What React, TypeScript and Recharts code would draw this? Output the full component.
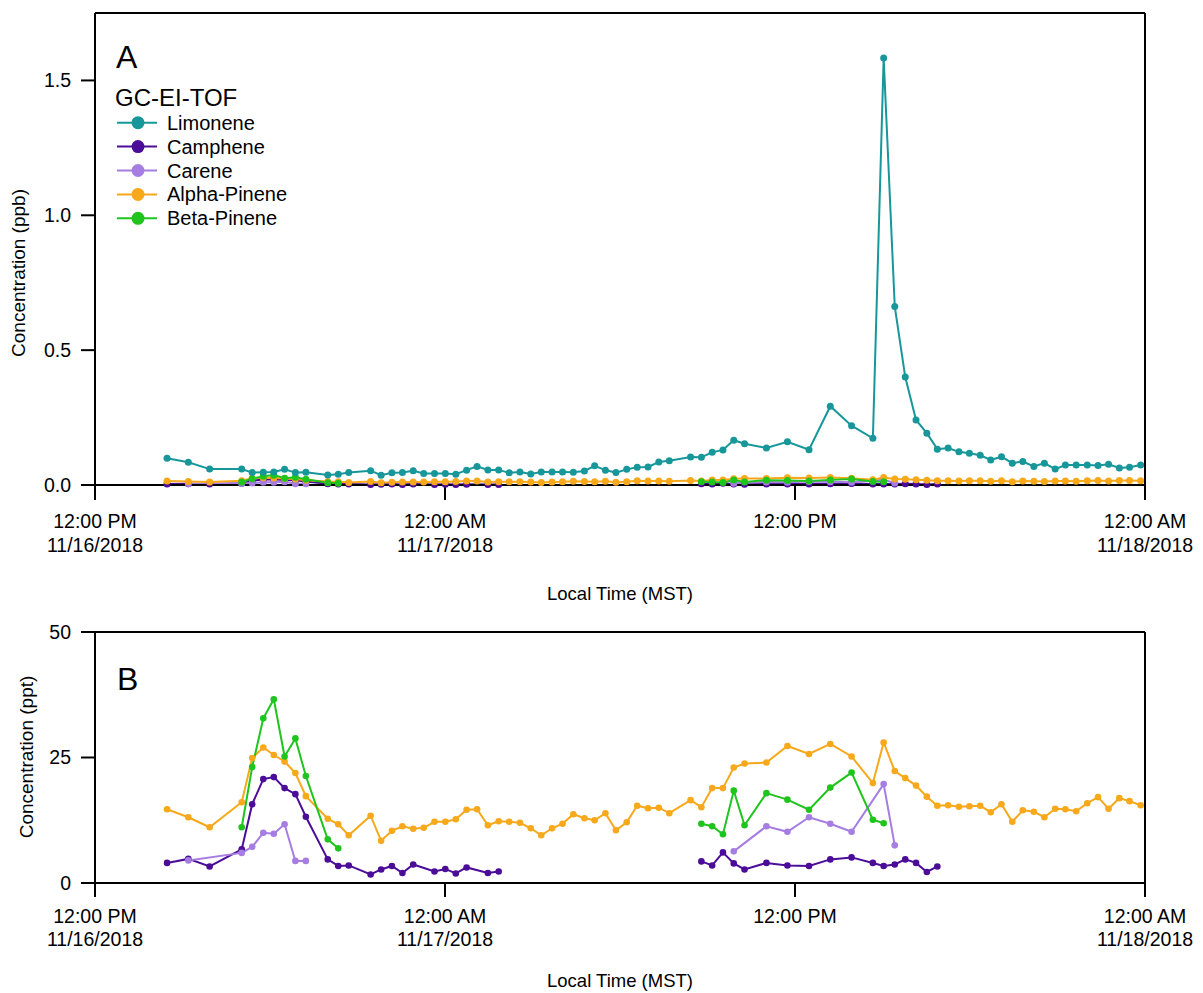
import { LineChart, Line, XAxis, YAxis, ReferenceLine } from "recharts";

type Pt = [number, number | null];

// x = hours after 12:00 PM MST on 11/16/2018
const timeTicks = [0, 12, 24, 36];
const timeLabels = ["12:00 PM", "12:00 AM", "12:00 PM", "12:00 AM"];
const dateLabels = ["11/16/2018", "11/17/2018", "", "11/18/2018"];
const ppbTicks = [0, 0.5, 1, 1.5];
const pptTicks = [0, 25, 50];

const names = ["Limonene", "Camphene", "Carene", "Alpha-Pinene", "Beta-Pinene"];
const colors = ["#17979a", "#4b0c98", "#a67de0", "#f7a81b", "#1fc41d"];

// ppb
const limonene: Pt[] = [
  [2.47, 0.099], [3.2, 0.084], [3.93, 0.059], [5.03, 0.059], [5.39, 0.046], [5.77, 0.047], [6.13, 0.048], [6.5, 0.058],
  [6.87, 0.046], [7.23, 0.047], [7.98, 0.037], [8.34, 0.04], [8.7, 0.046], [9.45, 0.053], [9.81, 0.036], [10.18, 0.045],
  [10.54, 0.046], [10.91, 0.053], [11.27, 0.043], [11.64, 0.043], [12.01, 0.043], [12.37, 0.04], [12.74, 0.055], [13.1, 0.069],
  [13.47, 0.056], [13.84, 0.056], [14.2, 0.045], [14.57, 0.048], [14.94, 0.041], [15.3, 0.048], [15.67, 0.048], [16.03, 0.048],
  [16.4, 0.047], [16.78, 0.052], [17.13, 0.071], [17.5, 0.055], [17.86, 0.046], [18.23, 0.058], [18.59, 0.066], [18.96, 0.067],
  [19.33, 0.085], [19.69, 0.09], [20.42, 0.104], [20.79, 0.103], [21.16, 0.121], [21.53, 0.13], [21.9, 0.166], [22.27, 0.153],
  [23.02, 0.137], [23.74, 0.16], [24.48, 0.131], [25.21, 0.292], [25.94, 0.22], [26.67, 0.173], [27.04, 1.583], [27.42, 0.662],
  [27.78, 0.4], [28.15, 0.241], [28.52, 0.192], [28.88, 0.133], [29.25, 0.137], [29.62, 0.123], [29.98, 0.118], [30.35, 0.11],
  [30.71, 0.093], [31.08, 0.105], [31.45, 0.081], [31.81, 0.087], [32.19, 0.069], [32.55, 0.081], [32.92, 0.059], [33.27, 0.074],
  [33.64, 0.074], [34.02, 0.074], [34.39, 0.072], [34.75, 0.077], [35.12, 0.063], [35.47, 0.066], [35.85, 0.074],
];

// ppt (null = gap in the record)
const camphene: Pt[] = [
  [2.47, 4.0], [3.2, 4.8], [3.93, 3.3], [5.03, 6.7], [5.39, 15.7], [5.77, 20.7], [6.13, 21.1], [6.5, 18.9], [6.87, 17.7],
  [7.23, 13.2], [7.98, 4.7], [8.34, 3.4], [8.7, 3.5], [9.45, 1.7], [9.81, 2.7], [10.18, 3.4], [10.54, 2.0], [10.91, 3.7],
  [11.64, 2.3], [12.01, 2.8], [12.37, 1.9], [12.74, 3.1], [13.47, 2.0], [13.84, 2.3],
  [17, null],
  [20.79, 4.3], [21.16, 3.5], [21.53, 6.1], [21.9, 3.9], [22.27, 2.7], [23.02, 4.0], [23.74, 3.5], [24.48, 3.4], [25.21, 4.7],
  [25.94, 5.1], [26.67, 4.0], [27.04, 3.4], [27.42, 3.7], [27.78, 4.7], [28.15, 4.0], [28.52, 2.2], [28.88, 3.3],
];

const carene: Pt[] = [
  [3.2, 4.5], [5.03, 6.0], [5.39, 7.2], [5.77, 10.0], [6.13, 9.8], [6.5, 11.7], [6.87, 4.4], [7.23, 4.4],
  [15, null],
  [21.9, 6.3], [23.02, 11.3], [23.74, 10.2], [24.48, 13.1], [25.21, 11.8], [25.94, 10.2], [27.04, 19.7], [27.42, 7.5],
];

const alphaPinene: Pt[] = [
  [2.47, 14.7], [3.2, 13.1], [3.93, 11.1], [5.03, 16.1], [5.39, 24.9], [5.77, 27.0], [6.13, 25.5], [6.5, 24.2], [6.87, 21.9],
  [7.23, 17.3], [7.98, 12.8], [8.34, 11.7], [8.7, 9.5], [9.45, 13.4], [9.81, 8.4], [10.18, 10.4], [10.54, 11.3], [10.91, 10.8],
  [11.27, 11.0], [11.64, 12.2], [12.01, 12.2], [12.37, 12.7], [12.74, 14.6], [13.1, 14.7], [13.47, 11.5], [13.84, 12.3],
  [14.2, 12.2], [14.57, 12.0], [14.94, 10.9], [15.3, 9.5], [15.67, 10.9], [16.03, 11.8], [16.4, 13.7], [16.78, 12.9],
  [17.13, 12.5], [17.5, 13.9], [17.86, 10.5], [18.23, 12.1], [18.59, 15.4], [18.96, 14.9], [19.33, 15.0], [19.69, 13.9],
  [20.42, 16.5], [20.79, 15.1], [21.16, 18.9], [21.53, 18.9], [21.9, 23.0], [22.27, 23.8], [23.02, 24.0], [23.74, 27.3],
  [24.48, 25.7], [25.21, 27.7], [25.94, 25.2], [26.67, 19.9], [27.04, 28.0], [27.42, 22.3], [27.78, 20.9], [28.15, 19.4],
  [28.52, 17.2], [28.88, 15.4], [29.25, 15.5], [29.62, 15.2], [29.98, 15.3], [30.35, 15.4], [30.71, 14.1], [31.08, 15.7],
  [31.45, 12.2], [31.81, 14.5], [32.19, 14.2], [32.55, 13.1], [32.92, 14.8], [33.27, 14.7], [33.64, 14.3], [34.02, 15.9],
  [34.39, 17.1], [34.75, 14.8], [35.12, 16.9], [35.47, 16.3], [35.85, 15.5],
];

const betaPinene: Pt[] = [
  [5.03, 11.1], [5.39, 23.1], [5.77, 32.8], [6.13, 36.6], [6.5, 25.2], [6.87, 28.8], [7.23, 21.3], [7.98, 8.7], [8.34, 6.9],
  [15, null],
  [20.79, 11.8], [21.16, 11.3], [21.53, 9.7], [21.9, 18.4], [22.27, 11.5], [23.02, 17.9], [23.74, 16.6], [24.48, 14.6],
  [25.21, 19.0], [25.94, 22.0], [26.67, 12.6], [27.04, 11.9],
];

const FONT = '"Liberation Sans", Arial, Helvetica, sans-serif';

const rows = (pts: Pt[], k = 1) => pts.map(([t, v]) => ({ t, v: v == null ? null : v * k }));

// drawing order: camphene, carene, alpha, beta, then limonene on top
const seriesA = [
  { i: 1, data: rows(camphene, 0.001) },
  { i: 2, data: rows(carene, 0.001) },
  { i: 3, data: rows(alphaPinene, 0.001) },
  { i: 4, data: rows(betaPinene, 0.001) },
  { i: 0, data: rows(limonene) },
];
const seriesB = [
  { i: 1, data: rows(camphene) },
  { i: 2, data: rows(carene) },
  { i: 3, data: rows(alphaPinene) },
  { i: 4, data: rows(betaPinene) },
];

const axisStyle = { stroke: "#000", strokeWidth: 2 };

function TimeTick(props: any) {
  const { x, y, payload, d1, d2 } = props;
  const i = timeTicks.indexOf(payload.value);
  return (
    <g>
      <text x={x} y={y + d1} textAnchor="middle" fontSize={19.5} fill="#000">{timeLabels[i]}</text>
      {dateLabels[i] && (
        <text x={x} y={y + d2} textAnchor="middle" fontSize={19.5} fill="#000">{dateLabels[i]}</text>
      )}
    </g>
  );
}

const yTitle = (text: string, x: number, y: number) => () => (
  <text x={x} y={y} transform={`rotate(-90 ${x} ${y})`} textAnchor="middle" dominantBaseline="central" fontSize={19} fill="#000">
    {text}
  </text>
);

const xTitle = (y: number) => () => (
  <text x={620} y={y} textAnchor="middle" fontSize={18.5} fill="#000">Local Time (MST)</text>
);

export default function App() {
  return (
    <div style={{ position: "absolute", left: 0, top: 0, width: 1203, height: 993, background: "#fff", fontFamily: FONT }}>
      {/* panel A */}
      <div style={{ position: "absolute", left: 0, top: 0 }}>
        <LineChart width={1203} height={610} margin={{ top: 13, right: 58, bottom: 0, left: 0 }}>
          <XAxis
            dataKey="t"
            type="number"
            domain={[0, 36]}
            ticks={timeTicks}
            interval={0}
            height={125}
            tickSize={15}
            tickMargin={0}
            axisLine={axisStyle}
            tickLine={axisStyle}
            tick={(p: any) => <TimeTick {...p} d1={28} d2={52} />}
            label={{ content: xTitle(600) }}
          />
          <YAxis
            type="number"
            domain={[0, 1.75]}
            ticks={ppbTicks}
            width={95}
            tickSize={14}
            tickMargin={10}
            axisLine={axisStyle}
            tickLine={axisStyle}
            tickFormatter={(v: number) => v.toFixed(1)}
            tick={{ fill: "#000", fontSize: 19.5 }}
            label={{ content: yTitle("Concentration (ppb)", 18, 273) }}
          />
          <ReferenceLine y={1.75} stroke="#000" strokeWidth={2} />
          <ReferenceLine x={36} stroke="#000" strokeWidth={2} />
          {seriesA.map((s) => (
            <Line
              key={names[s.i]}
              name={names[s.i]}
              data={s.data}
              dataKey="v"
              type="linear"
              stroke={colors[s.i]}
              strokeWidth={2}
              dot={{ r: 3.5, fill: colors[s.i], stroke: colors[s.i], strokeWidth: 0 }}
              activeDot={false}
              connectNulls={false}
              isAnimationActive={false}
            />
          ))}
        </LineChart>
      </div>

      {/* panel B */}
      <div style={{ position: "absolute", left: 0, top: 620 }}>
        <LineChart width={1203} height={373} margin={{ top: 12, right: 58, bottom: 0, left: 0 }}>
          <XAxis
            dataKey="t"
            type="number"
            domain={[0, 36]}
            ticks={timeTicks}
            interval={0}
            height={110}
            tickSize={14}
            tickMargin={0}
            axisLine={axisStyle}
            tickLine={axisStyle}
            tick={(p: any) => <TimeTick {...p} d1={26} d2={49} />}
            label={{ content: xTitle(367) }}
          />
          <YAxis
            type="number"
            domain={[0, 50]}
            ticks={pptTicks}
            width={95}
            tickSize={14}
            tickMargin={10}
            axisLine={axisStyle}
            tickLine={axisStyle}
            tick={{ fill: "#000", fontSize: 19.5 }}
            label={{ content: yTitle("Concentration (ppt)", 26, 137) }}
          />
          <ReferenceLine y={50} stroke="#000" strokeWidth={2} />
          <ReferenceLine x={36} stroke="#000" strokeWidth={2} />
          {seriesB.map((s) => (
            <Line
              key={names[s.i]}
              name={names[s.i]}
              data={s.data}
              dataKey="v"
              type="linear"
              stroke={colors[s.i]}
              strokeWidth={2}
              dot={{ r: 3.3, fill: colors[s.i], stroke: colors[s.i], strokeWidth: 0 }}
              activeDot={false}
              connectNulls={false}
              isAnimationActive={false}
            />
          ))}
        </LineChart>
      </div>

      {/* panel letters and legend */}
      <svg width={1203} height={993} style={{ position: "absolute", left: 0, top: 0, pointerEvents: "none" }}>
        <text x={116} y={68} fontSize={32} fill="#000">A</text>
        <text x={117} y={690} fontSize={32} fill="#000">B</text>
        <text x={115} y={106} fontSize={24} fill="#000">GC-EI-TOF</text>
        {names.map((n, k) => {
          const cy = 122.7 + k * 23.9;
          return (
            <g key={n}>
              <line x1={117} x2={157} y1={cy} y2={cy} stroke={colors[k]} strokeWidth={2} />
              <circle cx={138} cy={cy} r={6.5} fill={colors[k]} />
              <text x={167} y={cy} dominantBaseline="central" fontSize={20} fill="#000">{n}</text>
            </g>
          );
        })}
      </svg>
    </div>
  );
}
